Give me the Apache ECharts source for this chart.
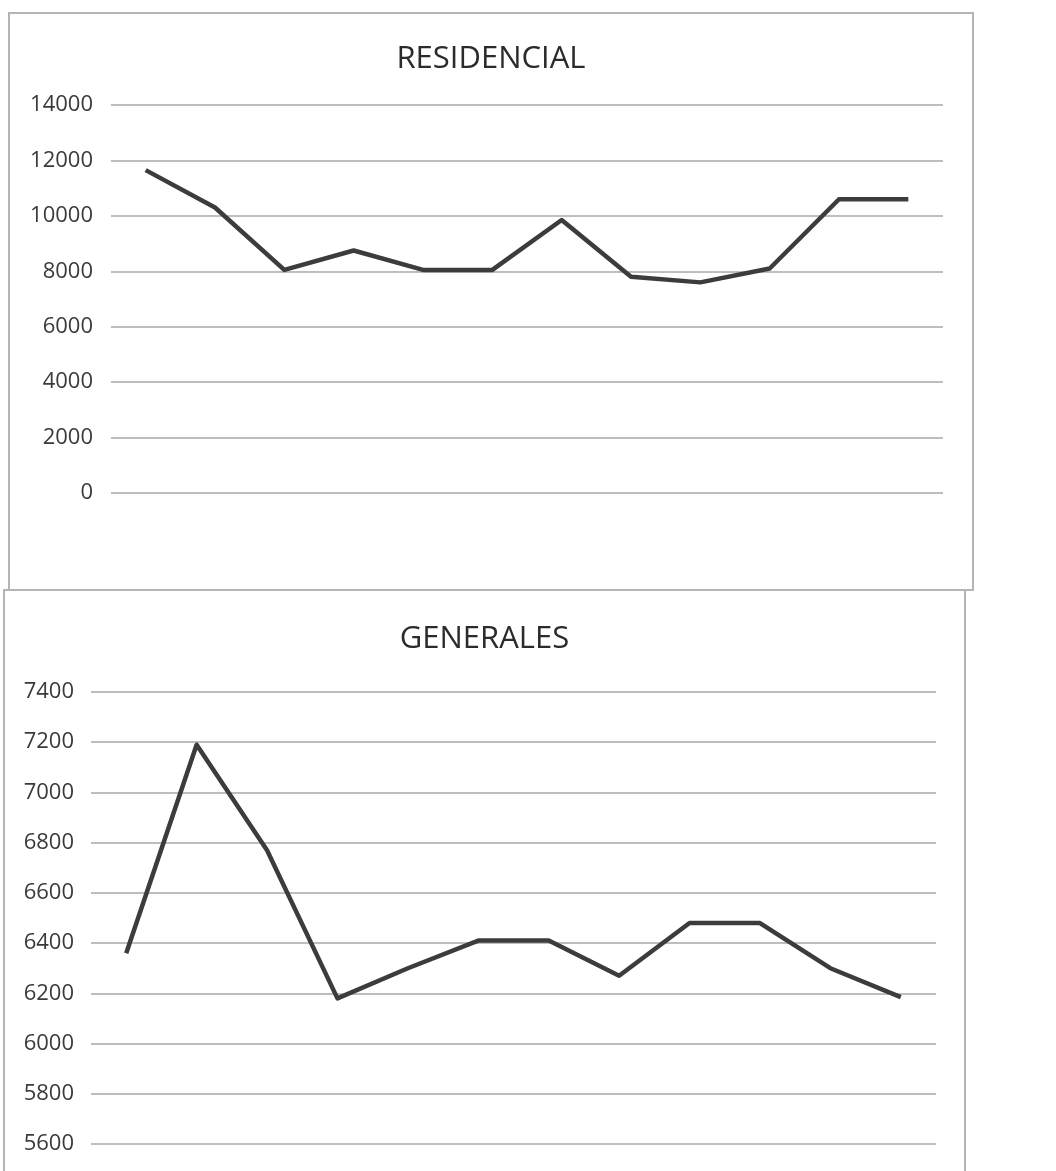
<!DOCTYPE html>
<html>
<head>
<meta charset="utf-8">
<script src="https://cdn.jsdelivr.net/npm/echarts@6/dist/echarts.min.js"></script>
<style>
  html, body { margin: 0; padding: 0; background: #ffffff; width: 1056px; height: 1171px; overflow: hidden; }
  .box { position: absolute; border: 2px solid #b5b5b5; box-sizing: border-box; background: #fff; }
  #c1 { left: 8px; top: 12px; width: 966px; height: 579px; }
  #c2 { left: 3px; top: 589px; width: 963px; height: 600px; }
</style>
</head>
<body>
<div id="c1" class="box"></div>
<div id="c2" class="box"></div>
<script>
// Data
const categories = ['Ene', 'Feb', 'Mar', 'Abr', 'May', 'Jun', 'Jul', 'Ago', 'Sep', 'Oct', 'Nov', 'Dic'];
const residencialValues = [11650, 10300, 8050, 8750, 8050, 8050, 9850, 7800, 7600, 8100, 10600, 10600];
const generalesValues = [6360, 7190, 6770, 6180, 6300, 6410, 6410, 6270, 6480, 6480, 6300, 6185];
const residencialTicks = { min: 0, max: 14000, interval: 2000 };
const generalesTicks = { min: 5600, max: 7400, interval: 200 };
const titles = ['RESIDENCIAL', 'GENERALES'];

function makeOption(title, values, ticks, grid, labelMargin, titleTop) {
  return {
    animation: false,
    backgroundColor: '#ffffff',
    title: {
      text: title,
      left: 'center',
      top: titleTop,
      textStyle: { fontFamily: 'Open Sans', fontSize: 31, fontWeight: 'normal', color: '#2b2b2b' }
    },
    grid: grid,
    xAxis: {
      type: 'category',
      data: categories,
      boundaryGap: true,
      axisLine: { show: false },
      axisTick: { show: false },
      axisLabel: { show: false },
      splitLine: { show: false }
    },
    yAxis: {
      type: 'value',
      min: ticks.min,
      max: ticks.max,
      interval: ticks.interval,
      axisLine: { show: false },
      axisTick: { show: false },
      axisLabel: {
        fontFamily: 'Open Sans', fontSize: 22, color: '#3a3a3a', margin: labelMargin,
        formatter: function (v) { return String(v); }
      },
      splitLine: { show: true, lineStyle: { color: '#a8a8a8', width: 1.5 } }
    },
    series: [{
      type: 'line',
      data: values,
      symbol: 'none',
      lineStyle: { color: '#3c3c3c', width: 4.5, join: 'round' }
    }]
  };
}

const chart1 = echarts.init(document.getElementById('c1'), null, { renderer: 'canvas' });
chart1.setOption(makeOption(titles[0], residencialValues, residencialTicks,
  { left: 101, right: 29, top: 91, height: 388, containLabel: false }, 18, 25));

const chart2 = echarts.init(document.getElementById('c2'), null, { renderer: 'canvas' });
chart2.setOption(makeOption(titles[1], generalesValues, generalesTicks,
  { left: 86, right: 28, top: 101, height: 452, containLabel: false }, 17, 28));
</script>
</body>
</html>
